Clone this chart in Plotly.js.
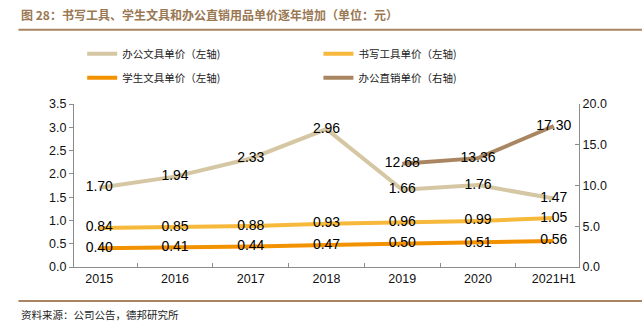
<!DOCTYPE html>
<html><head><meta charset="utf-8">
<script src="https://cdn.plot.ly/plotly-3.0.1.min.js"></script>
<style>html,body{margin:0;padding:0;background:#fff}#c{width:642px;height:325px}</style>
</head><body><div id="c"></div>
<script>
const categories = ['2015','2016','2017','2018','2019','2020','2021H1'];
const officeSupplies = [1.70,1.94,2.33,2.96,1.66,1.76,1.47];
const writingTools = [0.84,0.85,0.88,0.93,0.96,0.99,1.05];
const studentSupplies = [0.40,0.41,0.44,0.47,0.50,0.51,0.56];
const officeDirect = [null,null,null,null,12.68,13.36,17.30];
const names = ['办公文具单价（左轴)','书写工具单价（左轴)','学生文具单价（左轴)','办公直销单价（右轴)'];
const colors = ['#D5C7A3','#F6B93B','#F39200','#A98661'];
const labelFont = {family:'Liberation Sans, Arial', size:14, color:'#000'};
function tr(y, i, axis, leg){
  return {x:categories, y:y, name:names[i], type:'scatter', mode:'lines+text',
    yaxis:axis, legend:leg, legendgroup:'g'+i, line:{color:colors[i], width:4}, texttemplate:'%{y:.2f}',
    textposition:'middle center', textfont:labelFont, connectgaps:false, hoverinfo:'skip'};
}
const data = [tr(officeSupplies,0,'y','legend'), tr(writingTools,1,'y','legend2'),
              tr(studentSupplies,2,'y','legend'), tr(officeDirect,3,'y2','legend2')];
const axisFont = {family:'Liberation Sans, Arial', size:12.5, color:'#111'};
const legFont = {family:'Noto Sans CJK SC', size:10.5, color:'#222'};
const legBase = {orientation:'v', xref:'container', yref:'container', xanchor:'left', yanchor:'top',
    font:legFont, tracegroupgap:5, itemwidth:30, bgcolor:'rgba(0,0,0,0)'};
const layout = {
  width:642, height:325, paper_bgcolor:'#fff', plot_bgcolor:'#fff',
  margin:{l:74, r:63, t:104, b:58, autoexpand:false},
  showlegend:true,
  legend:Object.assign({x:0.128, y:0.879}, legBase),
  legend2:Object.assign({x:0.496, y:0.879}, legBase),
  xaxis:{type:'category', showline:true, linecolor:'#8c8c8c', linewidth:1, ticks:'inside', ticklen:4,
    tickson:'boundaries', tickcolor:'#8c8c8c', showgrid:false, zeroline:false, tickfont:axisFont, fixedrange:true},
  yaxis:{range:[0,3.5], dtick:0.5, tickformat:'.1f', showline:true, linecolor:'#8c8c8c', ticks:'outside', ticklen:4,
    tickcolor:'#8c8c8c', showgrid:false, zeroline:false, tickfont:axisFont},
  yaxis2:{range:[0,20], dtick:5, tickformat:'.1f', overlaying:'y', side:'right', showline:true, linecolor:'#8c8c8c',
    ticks:'inside', ticklen:4, tickcolor:'#8c8c8c', showgrid:false, zeroline:false, tickfont:axisFont},
  shapes:[
    {type:'line', xref:'paper', yref:'paper', x0:-0.11, x1:1.13, y0:1.456, y1:1.456, line:{color:'#A98661', width:2}},
    {type:'line', xref:'paper', yref:'paper', x0:-0.11, x1:1.13, y0:-0.208, y1:-0.208, line:{color:'#A98661', width:2}}
  ],
  annotations:[
    {text:'<b>图 28：书写工具、学生文具和办公直销用品单价逐年增加（单位：元）</b>', xref:'paper', yref:'paper',
     x:-0.108, y:1.55, xanchor:'left', yanchor:'middle', showarrow:false,
     font:{family:'Noto Sans CJK SC', size:12, color:'#9A7853'}},
    {text:'资料来源：公司公告，德邦研究所', xref:'paper', yref:'paper', x:-0.108, y:-0.29, xanchor:'left', yanchor:'middle',
     showarrow:false, font:{family:'Noto Sans CJK SC', size:10.5, color:'#222'}}
  ]
};
Plotly.newPlot('c', data, layout, {staticPlot:true, displayModeBar:false});
</script></body></html>
